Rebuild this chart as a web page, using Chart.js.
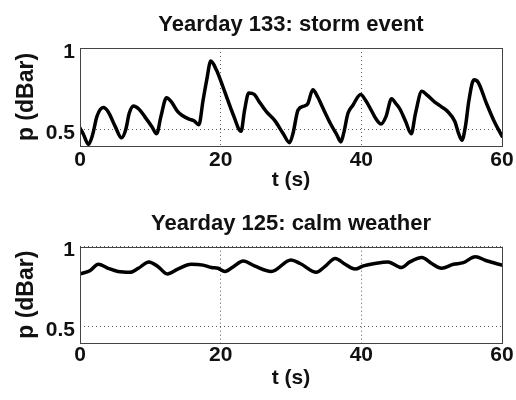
<!DOCTYPE html>
<html>
<head>
<meta charset="utf-8">
<script src="https://cdn.jsdelivr.net/npm/chart.js@4.4.1/dist/chart.umd.min.js"></script>
<style>
    html, body { margin: 0; padding: 0; background: #fff; }
    canvas { display: block; }
</style>
</head>
<body>
<canvas id="storm-chart" width="516" height="200"></canvas>
<canvas id="calm-chart" width="516" height="200"></canvas>
<script>
// Pressure records, 60 s windows
const tStorm = [0, 0.5, 1.2, 1.8, 2.4, 3.3, 4.0, 5.0, 5.9, 6.5, 7.0, 7.6, 8.4, 9.2, 10.2, 10.9, 11.5, 12.3, 13.0, 13.9,
    14.6, 15.5, 16.2, 16.9, 17.5, 18.0, 18.6, 19.4, 20.0, 20.6, 21.8, 22.9, 23.4, 24.0, 24.8, 25.5, 26.5, 27.7, 28.9, 29.8,
    30.3, 31.0, 31.9, 32.4, 33.1, 33.8, 34.4, 35.7, 36.5, 37.1, 37.5, 38.1, 38.8, 39.9, 40.6, 41.4, 42.1, 42.8, 43.5, 44.3,
    44.9, 45.5, 46.3, 47.1, 47.7, 48.6, 49.4, 50.4, 51.4, 52.3, 53.3, 53.8, 54.3, 54.8, 55.3, 56.0, 56.6, 57.8, 58.9, 60];
const pStorm = [0.51, 0.47, 0.41, 0.47, 0.58, 0.635, 0.61, 0.52, 0.45, 0.50, 0.60, 0.645, 0.625, 0.58, 0.52, 0.475, 0.58, 0.695, 0.67, 0.61,
    0.585, 0.565, 0.555, 0.53, 0.68, 0.80, 0.92, 0.865, 0.80, 0.73, 0.59, 0.49, 0.62, 0.725, 0.715, 0.67, 0.61, 0.555, 0.475, 0.42,
    0.48, 0.62, 0.645, 0.66, 0.745, 0.70, 0.645, 0.53, 0.47, 0.425, 0.48, 0.60, 0.65, 0.715, 0.68, 0.62, 0.565, 0.535, 0.58, 0.69,
    0.66, 0.625, 0.55, 0.475, 0.60, 0.735, 0.71, 0.67, 0.64, 0.61, 0.55, 0.48, 0.435, 0.52, 0.68, 0.805, 0.79, 0.66, 0.55, 0.46];

const tCalm = [0, 1.4, 2.6, 4.0, 5.4, 7.1, 8.3, 9.8, 11.1, 12.4, 13.9, 15.8, 17.5, 18.7, 19.6, 20.6, 21.8, 23.2, 24.8, 27.2,
    30.0, 31.3, 33.6, 34.8, 36.3, 37.7, 39.1, 40.3, 41.9, 43.8, 45.7, 46.9, 48.6, 50.0, 51.4, 53.1, 54.5, 56.2, 57.8, 60];
const pCalm = [0.83, 0.85, 0.89, 0.865, 0.845, 0.84, 0.865, 0.905, 0.875, 0.83, 0.86, 0.89, 0.885, 0.87, 0.865, 0.845, 0.875, 0.91, 0.88, 0.845,
    0.917, 0.895, 0.84, 0.875, 0.927, 0.89, 0.86, 0.88, 0.895, 0.905, 0.87, 0.905, 0.932, 0.895, 0.865, 0.89, 0.9, 0.937, 0.912, 0.885];

const tTicks = [0, 20, 40, 60];
const pTicks = [0.5, 1];

const FONT = '"Liberation Sans", Arial, Helvetica, sans-serif';

// box around the plot area
const frame = {
    id: 'frame',
    afterDraw(chart) {
        const { ctx, chartArea: a } = chart;
        ctx.save();
        ctx.strokeStyle = '#444';
        ctx.lineWidth = 1;
        ctx.strokeRect(Math.round(a.left) + 0.5, Math.round(a.top) + 0.5,
            Math.round(a.right - a.left), Math.round(a.bottom - a.top));
        ctx.restore();
    }
};

function makeChart(id, title, t, p, opt) {
    const ctx = document.getElementById(id).getContext('2d');
    return new Chart(ctx, {
        type: 'line',
        data: {
            datasets: [{
                data: t.map((x, i) => ({ x, y: p[i] })),
                borderColor: '#000',
                borderWidth: 3.5,
                borderJoinStyle: 'round',
                borderCapStyle: 'round',
                cubicInterpolationMode: 'monotone',
                pointRadius: 0,
                fill: false
            }]
        },
        options: {
            responsive: false,
            animation: false,
            devicePixelRatio: 1,
            layout: { padding: { left: 0, right: 14, top: 0, bottom: 0 } },
            plugins: {
                legend: { display: false },
                tooltip: { enabled: false },
                title: {
                    display: true,
                    fullSize: false,   // centre over the plot, not the canvas
                    text: title,
                    color: '#111',
                    font: { family: FONT, size: 22, weight: 'bold' },
                    padding: { top: opt.titleTop, bottom: opt.titleBottom }
                }
            },
            scales: {
                x: {
                    type: 'linear',
                    min: 0,
                    max: 60,
                    afterBuildTicks: s => { s.ticks = tTicks.map(v => ({ value: v })); },
                    afterFit: s => { s.height = opt.xHeight; },
                    grid: { color: 'rgba(0,0,0,0.65)', lineWidth: 1, drawTicks: false },
                    border: { display: false, dash: [1, 3] },
                    ticks: {
                        color: '#111',
                        padding: opt.xPad,
                        maxRotation: 0,
                        font: { family: FONT, size: 21, weight: 'bold' }
                    },
                    title: {
                        display: true,
                        text: 't (s)',
                        color: '#111',
                        font: { family: FONT, size: 21, weight: 'bold' },
                        padding: { top: 0, bottom: opt.xTitleBottom }
                    }
                },
                y: {
                    min: 0.4,
                    max: 1,
                    afterBuildTicks: s => { s.ticks = pTicks.map(v => ({ value: v })); },
                    afterFit: s => { s.width = 80; },
                    grid: { color: 'rgba(0,0,0,0.65)', lineWidth: 1, drawTicks: false },
                    border: { display: false, dash: [1, 3] },
                    ticks: {
                        color: '#111',
                        padding: 5,
                        labelOffset: 4,
                        callback: v => String(v),
                        font: { family: FONT, size: 21, weight: 'bold' }
                    },
                    title: {
                        display: true,
                        text: 'p (dBar)',
                        color: '#111',
                        font: { family: FONT, size: 23, weight: 'bold' },
                        padding: { top: 13, bottom: 0 }
                    }
                }
            }
        },
        plugins: [frame]
    });
}

makeChart('storm-chart', 'Yearday 133: storm event', tStorm, pStorm,
    { titleTop: 12, titleBottom: 9.6, xHeight: 54, xPad: 2, xTitleBottom: 7 });
makeChart('calm-chart', 'Yearday 125: calm weather', tCalm, pCalm,
    { titleTop: 11, titleBottom: 9.3, xHeight: 57.3, xPad: 0, xTitleBottom: 9 });
</script>
</body>
</html>
